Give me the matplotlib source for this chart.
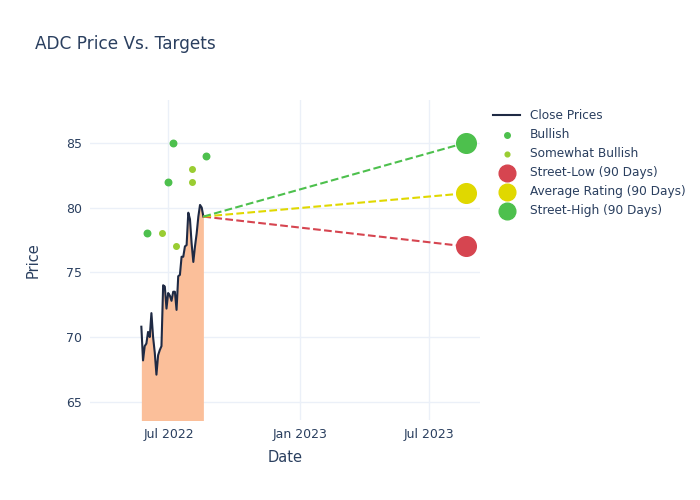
import pandas as pd
import numpy as np
import matplotlib
matplotlib.use("Agg")
import matplotlib.pyplot as plt
import matplotlib.dates as mdates

# 收盘价 (ADC, 2022-05-24 ~ 2022-08-19)
close_prices = [70.8, 68.2, 69.3, 69.5, 70.4, 70.0, 71.85, 70.0, 68.8, 67.1,
                68.6, 69.0, 69.3, 74.0, 73.9, 72.2, 73.4, 73.2, 72.8, 73.5,
                73.5, 72.1, 74.7, 74.8, 76.2, 76.2, 77.0, 77.1, 79.6, 79.1,
                77.2, 75.8, 77.0, 78.0, 79.3, 80.2, 80.0, 79.3]
price_dates = pd.date_range("2022-05-24", "2022-08-19", periods=len(close_prices))

bullish_dates = pd.to_datetime(["2022-06-01", "2022-06-30", "2022-07-08", "2022-08-22"])
bullish_targets = [78, 82, 85, 84]
somewhat_dates = pd.to_datetime(["2022-06-22", "2022-07-12", "2022-08-03", "2022-08-03"])
somewhat_targets = [78, 77, 83, 82]

target_date = pd.Timestamp("2023-08-22")
street_low = 77.0
avg_rating = 81.1
street_high = 85.0

text_color = "#2a3f5f"
grid_color = "#ebf0f8"

fig = plt.figure(figsize=(7, 5), dpi=100)
ax = fig.add_axes([0.1286, 0.16, 0.5571, 0.64])

y_min, y_max = 63.6, 88.3
ax.fill_between(price_dates, close_prices, y_min - 5, color="#fbbf9a", linewidth=0, zorder=2)
ax.plot(price_dates, close_prices, color="#1f2a44", linewidth=1.5, label="Close Prices", zorder=3)
ax.scatter(bullish_dates, bullish_targets, s=22, color="#4dc04d", label="Bullish", zorder=4)
ax.scatter(somewhat_dates, somewhat_targets, s=16, color="#9acd32", label="Somewhat Bullish", zorder=4)

last_date = price_dates[-1]
last_price = close_prices[-1]
for val, c in [(street_low, "#d64550"), (avg_rating, "#e0d800"), (street_high, "#4dc04d")]:
    ax.plot([last_date, target_date], [last_price, val], linestyle="--", color=c, linewidth=1.5, zorder=3)

ax.scatter([target_date], [street_low], s=200, color="#d64550", label="Street-Low (90 Days)", zorder=5)
ax.scatter([target_date], [avg_rating], s=200, color="#e0d800", label="Average Rating (90 Days)", zorder=5)
ax.scatter([target_date], [street_high], s=200, color="#4dc04d", label="Street-High (90 Days)", zorder=5)

ax.set_xlim(pd.Timestamp("2022-03-13"), pd.Timestamp("2023-09-11"))
ax.set_ylim(y_min, y_max)
ax.set_yticks([65, 70, 75, 80, 85])
ax.set_xticks(pd.to_datetime(["2022-07-01", "2023-01-01", "2023-07-01"]))
ax.xaxis.set_major_formatter(mdates.DateFormatter("%b %Y"))
ax.grid(True, color=grid_color, linewidth=1, zorder=0)
ax.set_axisbelow(True)
for s in ax.spines.values():
    s.set_visible(False)
ax.tick_params(length=0, colors=text_color, labelsize=9, pad=6)
ax.set_xlabel("Date", color=text_color, fontsize=10.5, labelpad=6)
ax.set_ylabel("Price", color=text_color, fontsize=10.5, labelpad=18)

fig.text(0.05, 0.912, "ADC Price Vs. Targets", color=text_color, fontsize=12.2, va="center")

leg = ax.legend(loc="upper left", bbox_to_anchor=(1.022, 0.987), frameon=False,
                fontsize=8.7, labelcolor=text_color, handlelength=2.2,
                borderaxespad=0, labelspacing=0.5, markerscale=0.85)

fig.savefig("out.png", dpi=100)
